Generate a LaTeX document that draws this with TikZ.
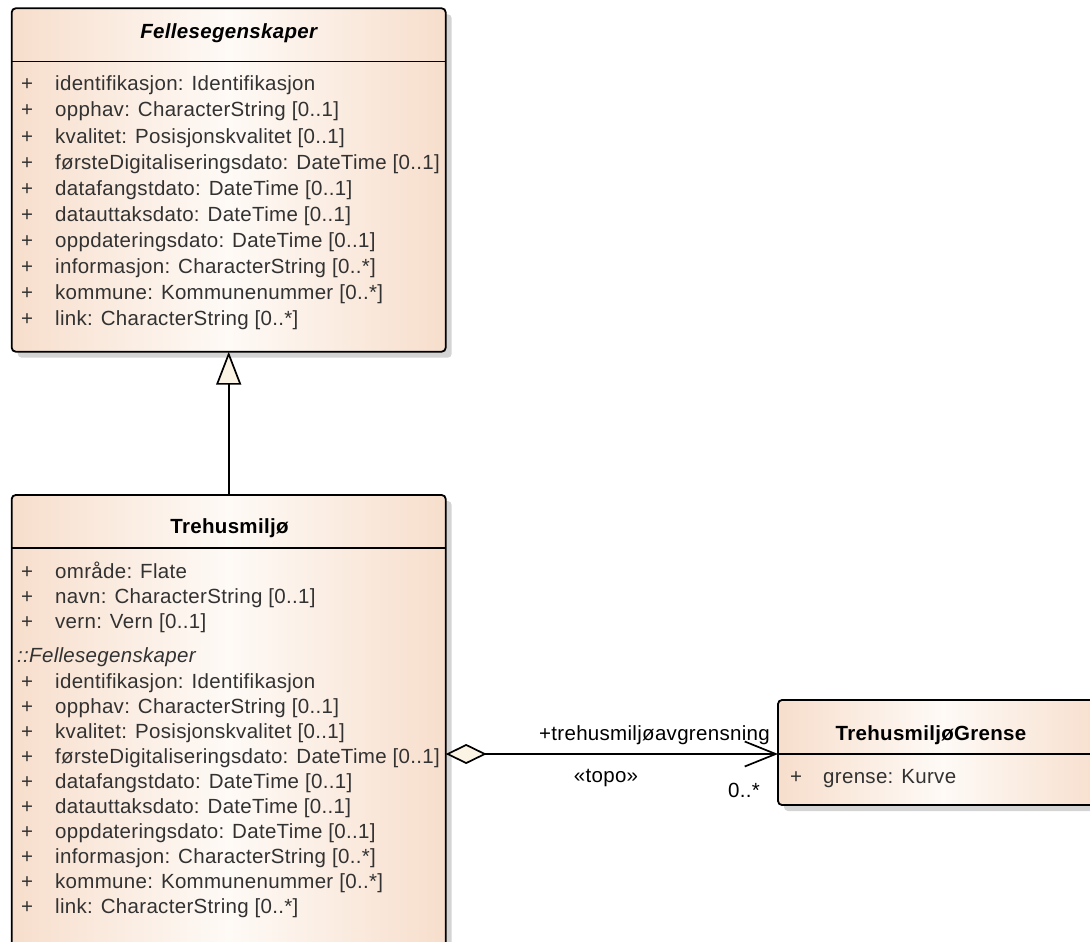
\documentclass[tikz,border=0pt]{standalone}
\usepackage{fontspec}
\setmainfont{Liberation Sans}
\newfontfamily\umlfont[LetterSpace=1.5]{Liberation Sans}
\newcommand\umltext{\umlfont\fontsize{20.5}{24}\selectfont}
\usetikzlibrary{arrows.meta}
\definecolor{peach}{RGB}{247,222,204}
\definecolor{peachmid}{RGB}{254,250,246}
\definecolor{shadowgray}{RGB}{212,212,212}
\definecolor{cream}{RGB}{251,243,228}
\definecolor{attrgray}{RGB}{50,50,50}
\begin{document}
\begin{tikzpicture}[x=1pt,y=-1pt,
  classbox/.style={draw=black, line width=1.8pt, rounded corners=4pt,
    left color=peach, right color=peach, middle color=peachmid,
    inner sep=0pt, outer sep=0pt},
  shadowfill/.style={fill=shadowgray, rounded corners=4pt},
  sepline/.style={line width=1.4pt},
  attr/.style={anchor=base west, inner sep=0pt, font=\umltext, text=attrgray},
  plus/.style={anchor=base, inner sep=0pt, font=\umltext, text=attrgray},
  ctitle/.style={anchor=base, inner sep=0pt, font=\umltext\bfseries, text=black},
  rolelabel/.style={inner sep=0pt, font=\umltext, text=black},
  conn/.style={line width=1.7pt, draw=black}
]
\useasboundingbox (0,0) rectangle (1090,942);
\clip (0,0) rectangle (1090,942);

% shadows
\fill[shadowfill] (17.7,14.3) rectangle (451.7,357.7);
\fill[shadowfill] (17.7,501) rectangle (451.7,990);
\fill[shadowfill] (784,706) rectangle (1114,811);

% boxes
\node[classbox, minimum width=434pt, minimum height=343.4pt] (felles) at (228.7,180) {};
\node[classbox, minimum width=434pt, minimum height=490pt] (treh) at (228.7,740) {};
\node[classbox, minimum width=330pt, minimum height=105pt] (grense) at (943,752.5) {};

% header separators
\draw[sepline] (11.7,61.7) -- (445.7,61.7);
\draw[sepline] (11.7,548) -- (445.7,548);
\draw[sepline] (778,754) -- (1108,754);

% titles
\node[ctitle, font=\umltext\bfseries\itshape] (tfelles) at (228.7,39) {Fellesegenskaper};
\node[ctitle] (ttreh) at (229.5,533) {Trehusmiljø};
\node[ctitle] (tgrense) at (931,740) {TrehusmiljøGrense};

% Fellesegenskaper attributes
\foreach \t [count=\i from 0] in {
  {identifikasjon: Identifikasjon},
  {opphav: CharacterString [0..1]},
  {kvalitet: Posisjonskvalitet [0..1]},
  {førsteDigitaliseringsdato: DateTime [0..1]},
  {datafangstdato: DateTime [0..1]},
  {datauttaksdato: DateTime [0..1]},
  {oppdateringsdato: DateTime [0..1]},
  {informasjon: CharacterString [0..*]},
  {kommune: Kommunenummer [0..*]},
  {link: CharacterString [0..*]}} {
  \node[plus] (fp\i) at (27,{91+26*\i}) {+};
  \node[attr] (fa\i) at (55,{91+26*\i}) {\t};
}

% Trehusmiljø own attributes
\foreach \t [count=\i from 0] in {
  {område: Flate},
  {navn: CharacterString [0..1]},
  {vern: Vern [0..1]}} {
  \node[plus] (tp\i) at (27,{578+25*\i}) {+};
  \node[attr] (ta\i) at (55,{578+25*\i}) {\t};
}
\node[attr, font=\umltext\itshape] (tinh) at (17,662) {::Fellesegenskaper};
\foreach \t [count=\i from 0] in {
  {identifikasjon: Identifikasjon},
  {opphav: CharacterString [0..1]},
  {kvalitet: Posisjonskvalitet [0..1]},
  {førsteDigitaliseringsdato: DateTime [0..1]},
  {datafangstdato: DateTime [0..1]},
  {datauttaksdato: DateTime [0..1]},
  {oppdateringsdato: DateTime [0..1]},
  {informasjon: CharacterString [0..*]},
  {kommune: Kommunenummer [0..*]},
  {link: CharacterString [0..*]}} {
  \node[plus] (ip\i) at (27,{688+25*\i}) {+};
  \node[attr] (ia\i) at (55,{688+25*\i}) {\t};
}

% TrehusmiljøGrense attribute
\node[plus] (gp0) at (796,783) {+};
\node[attr] (ga0) at (823,783) {grense: Kurve};

% generalization
\draw[conn, -{Triangle[length=33pt,width=25pt,fill=cream]}] (treh.north) -- (felles.south);

% aggregation
\coordinate (hline) at (0,754);
\draw[conn, {Diamond[length=41pt,width=20pt,fill=cream]}-{Straight Barb[length=31pt,width=25pt]}]
  (treh.east |- hline) -- (grense.west |- hline);

% association labels
\node[rolelabel, anchor=base east] (lrole) at (770,740) {+trehusmiljøavgrensning};
\node[rolelabel, anchor=base] (lstereo) at (606,782) {«topo»};
\node[rolelabel, anchor=base east] (lmult) at (760,797) {0..*};
\end{tikzpicture}
\end{document}
